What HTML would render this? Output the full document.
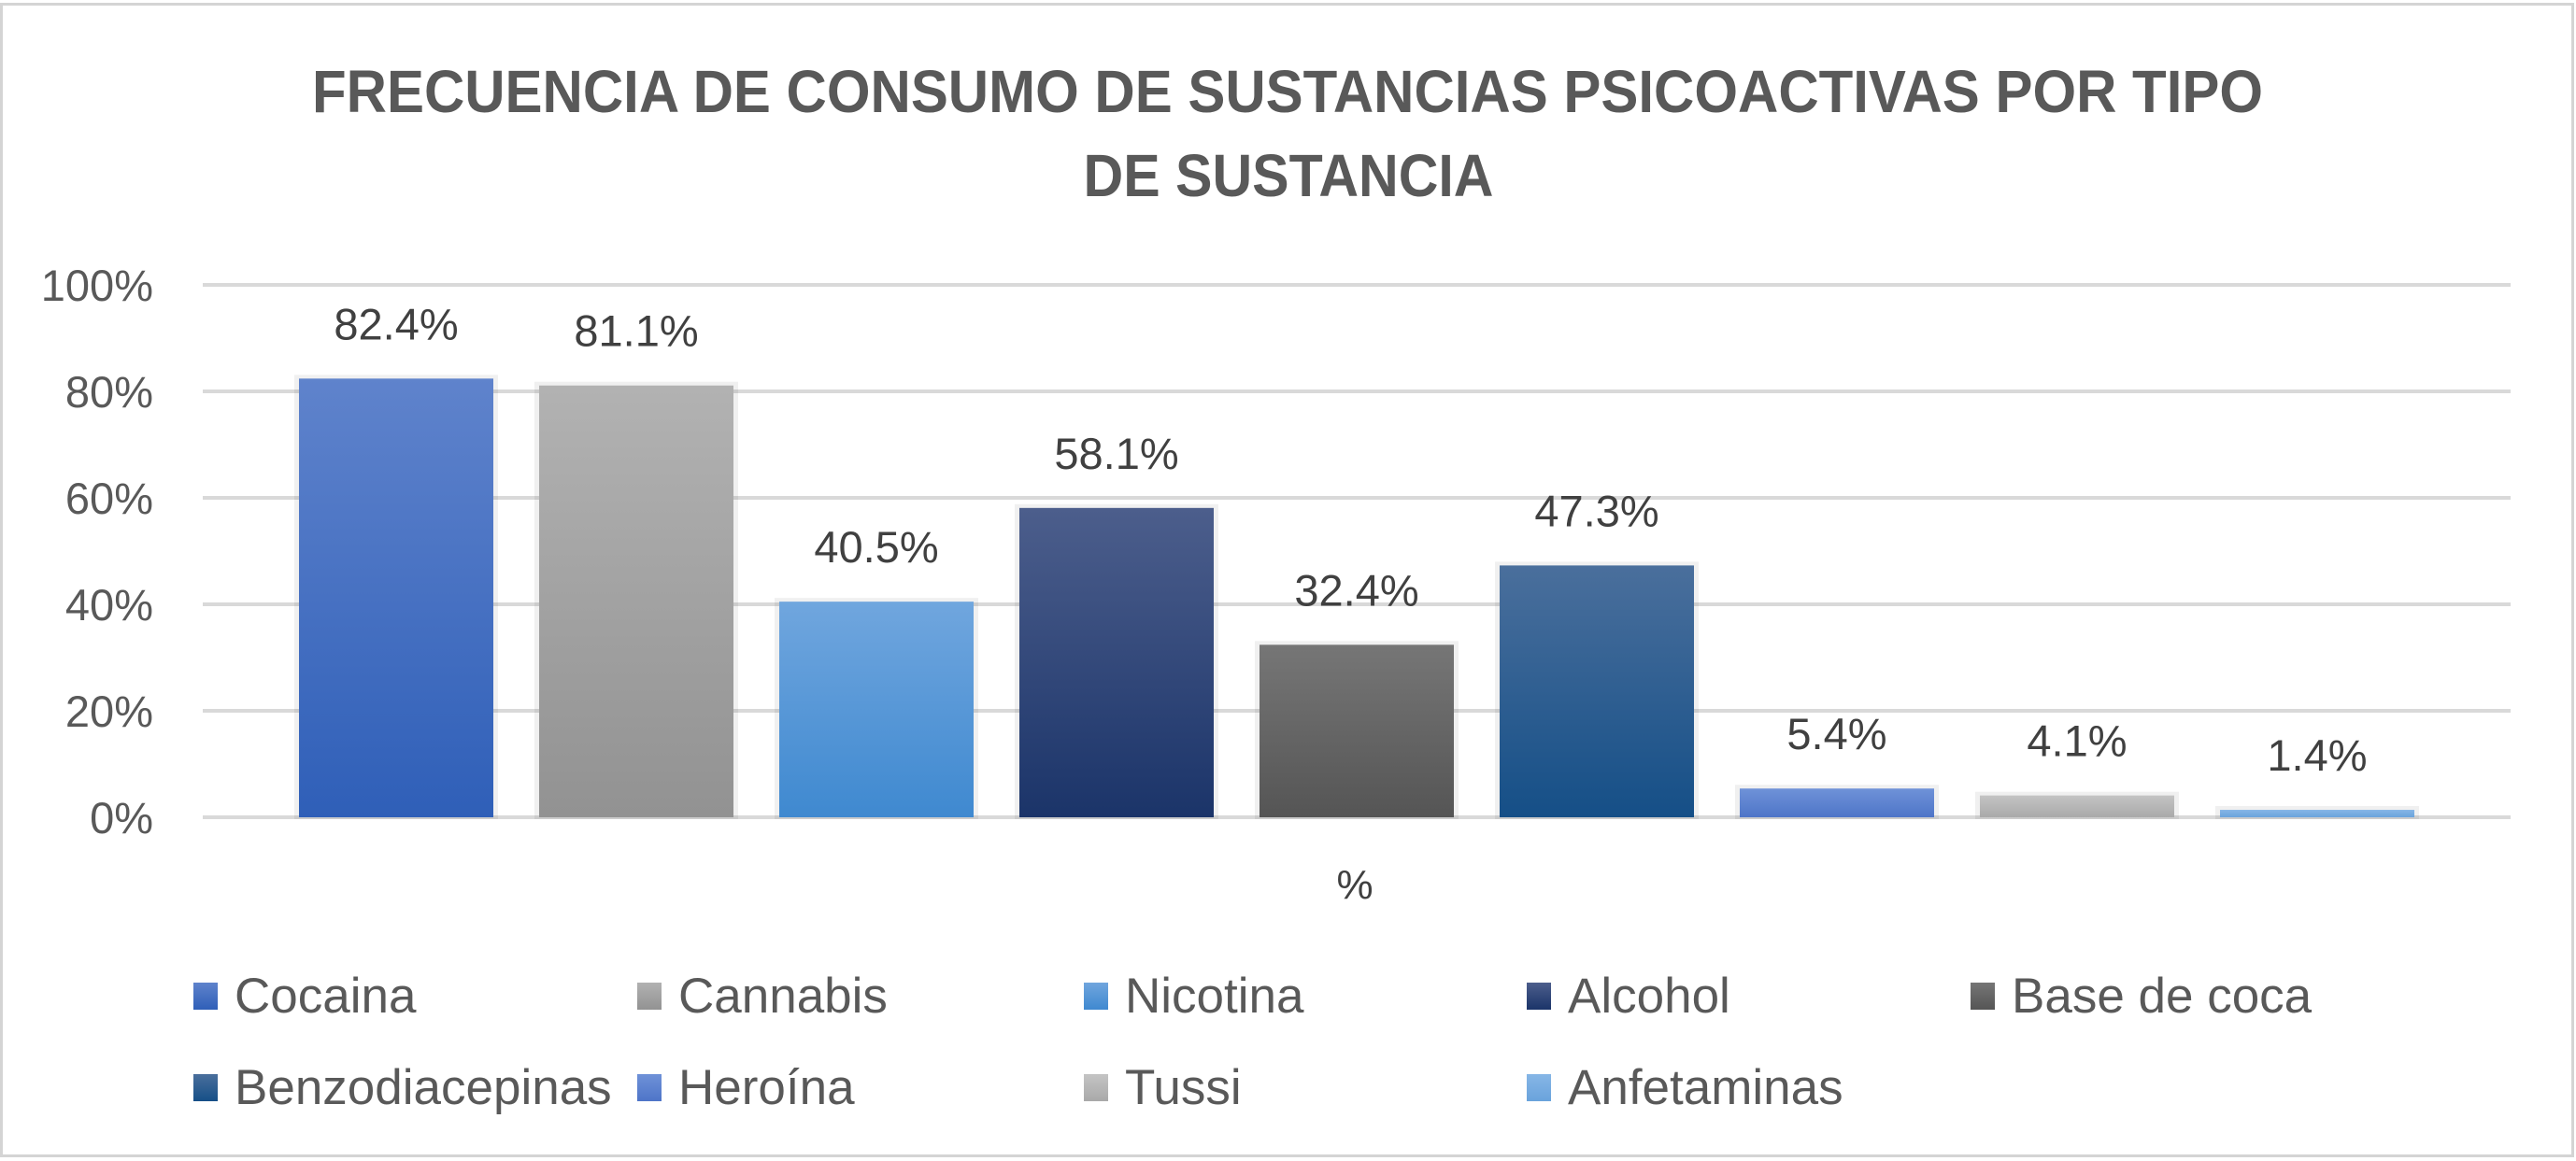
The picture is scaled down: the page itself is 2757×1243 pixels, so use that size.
<!DOCTYPE html>
<html><head><meta charset="utf-8"><style>
html,body{margin:0;padding:0;background:#fff}
svg{display:block}
text{font-family:"Liberation Sans",Arial,sans-serif}
</style></head><body>
<svg id="chart" width="2757" height="1243" viewBox="0 0 2757 1243" xmlns="http://www.w3.org/2000/svg">
<defs>
<linearGradient id="g0" x1="0" y1="0" x2="0" y2="1"><stop offset="0" stop-color="#5f83cc"/><stop offset="1" stop-color="#2f5fb8"/></linearGradient>
<linearGradient id="g1" x1="0" y1="0" x2="0" y2="1"><stop offset="0" stop-color="#b2b2b2"/><stop offset="1" stop-color="#929292"/></linearGradient>
<linearGradient id="g2" x1="0" y1="0" x2="0" y2="1"><stop offset="0" stop-color="#70a6de"/><stop offset="1" stop-color="#3f89d0"/></linearGradient>
<linearGradient id="g3" x1="0" y1="0" x2="0" y2="1"><stop offset="0" stop-color="#4c5e8c"/><stop offset="1" stop-color="#1b3469"/></linearGradient>
<linearGradient id="g4" x1="0" y1="0" x2="0" y2="1"><stop offset="0" stop-color="#767676"/><stop offset="1" stop-color="#555555"/></linearGradient>
<linearGradient id="g5" x1="0" y1="0" x2="0" y2="1"><stop offset="0" stop-color="#4a6f9c"/><stop offset="1" stop-color="#154f87"/></linearGradient>
<linearGradient id="g6" x1="0" y1="0" x2="0" y2="1"><stop offset="0" stop-color="#6f92d8"/><stop offset="1" stop-color="#4e75c8"/></linearGradient>
<linearGradient id="g7" x1="0" y1="0" x2="0" y2="1"><stop offset="0" stop-color="#c4c4c4"/><stop offset="1" stop-color="#a9a9a9"/></linearGradient>
<linearGradient id="g8" x1="0" y1="0" x2="0" y2="1"><stop offset="0" stop-color="#86b6e6"/><stop offset="1" stop-color="#6aa3dc"/></linearGradient>
</defs>
<rect x="1.5" y="4.5" width="2752" height="1233" fill="#fff" stroke="#d4d4d4" stroke-width="3"/>
<text x="1378" y="120" text-anchor="middle" font-size="64" font-weight="bold" fill="#595959" textLength="2088" lengthAdjust="spacingAndGlyphs">FRECUENCIA DE CONSUMO DE SUSTANCIAS PSICOACTIVAS POR TIPO</text>
<text x="1379" y="210" text-anchor="middle" font-size="64" font-weight="bold" fill="#595959" textLength="439" lengthAdjust="spacingAndGlyphs">DE SUSTANCIA</text>
<g id="grid"></g>
<g id="yticks"></g>
<g id="bars"></g>
<g id="labels"></g>
<text x="1450" y="962" text-anchor="middle" font-size="44" fill="#404040">%</text>
<g id="legend"></g>
</svg>
<script>
const categories = ["Cocaina","Cannabis","Nicotina","Alcohol","Base de coca","Benzodiacepinas","Heroína","Tussi","Anfetaminas"];
const values = [82.4,81.1,40.5,58.1,32.4,47.3,5.4,4.1,1.4];
const valueLabels = ["82.4%","81.1%","40.5%","58.1%","32.4%","47.3%","5.4%","4.1%","1.4%"];
const yTicks = [0,20,40,60,80,100];
const yTickLabels = ["0%","20%","40%","60%","80%","100%"];

const NS = "http://www.w3.org/2000/svg";
const y0 = 875, yTop = 305, yMax = 100;
const xStart = 320, step = 257, barW = 208;
function yScale(v){ return y0 - (v / yMax) * (y0 - yTop); }
function xScale(i){ return xStart + i * step; }
function mk(tag, attrs, parent){
  const e = document.createElementNS(NS, tag);
  for (const k in attrs) e.setAttribute(k, attrs[k]);
  parent.appendChild(e); return e;
}
const grid = document.getElementById('grid');
const yt = document.getElementById('yticks');
yTicks.forEach((t, i) => {
  const y = yScale(t);
  const l = mk('line', {x1:217, x2:2687, y1:y, y2:y, stroke:'#d9d9d9', 'stroke-width':4}, grid);
  
  
  const tx = mk('text', {x:164, y:y+17, 'text-anchor':'end', 'font-size':47, fill:'#595959'}, yt);
  
  
  tx.textContent = yTickLabels[i];
});
const bars = document.getElementById('bars');
const labels = document.getElementById('labels');
values.forEach((v, i) => {
  const x = xScale(i), y = yScale(v);
  const sh = mk('rect', {x:x-5, y:y-4, width:barW+10, height:y0-y+6, fill:'#000', opacity:0.06}, bars);
  
  
  const r = mk('rect', {x:x, y:y, width:barW, height:Math.max(y0-y,2), fill:'url(#g'+i+')'}, bars);
  
  
  const t = mk('text', {x:x+barW/2, y:y-42, 'text-anchor':'middle', 'font-size':47, fill:'#404040'}, labels);
  
  
  t.textContent = valueLabels[i];
});
const legend = document.getElementById('legend');
const colX = [207, 682, 1160, 1634, 2109];
const rowY = [1084, 1182];
categories.forEach((c, i) => {
  const col = i % 5, row = Math.floor(i / 5);
  const g = mk('g', {}, legend);
  
  
  mk('rect', {x:colX[col], y:rowY[row]-32, width:26, height:29, fill:'url(#g'+i+')'}, g);
  const t = mk('text', {x:colX[col]+44, y:rowY[row], 'font-size':53, fill:'#595959'}, g);
  t.textContent = c;
});
</script>
</body></html>
